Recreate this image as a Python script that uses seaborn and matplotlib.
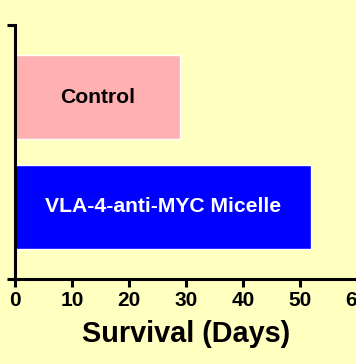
import pandas as pd
import seaborn as sns
import matplotlib.pyplot as plt

groups = ['Control', 'VLA-4-anti-MYC Micelle']
survival_days = [29, 52]
bar_colors = ['#FFB0B0', '#0000FF']
label_colors = ['black', 'white']
x_ticks = [0, 10, 20, 30, 40, 50, 60]

bg = '#FFFFBF'

sns.set_style('ticks')
plt.rcParams['font.family'] = ['Liberation Sans', 'DejaVu Sans']
plt.rcParams['font.weight'] = 'bold'

df = pd.DataFrame({'group': groups, 'days': survival_days})

fig = plt.figure(figsize=(3.56, 3.64), dpi=100)
fig.patch.set_facecolor(bg)
ax = fig.add_axes([15 / 356, 1 - 279 / 364, 342 / 356, 254 / 364])
ax.set_facecolor(bg)

sns.barplot(data=df, x='days', y='group', hue='group', palette=bar_colors,
            orient='h', width=0.764, legend=False, saturation=1, ax=ax)

# group names written in the middle of each bar
for i, name in enumerate(groups):
    ax.text(survival_days[i] / 2, i, name, color=label_colors[i], fontsize=15.2,
            fontweight='bold', ha='center', va='center')

ax.set_xlim(0, 60)
ax.set_ylim(1.655, -0.655)
ax.set_xticks(x_ticks)
ax.set_xticklabels([str(t) for t in x_ticks], fontsize=15, fontweight='bold')
ax.set_yticks([-0.655, 1.655])
ax.set_yticklabels(['', ''])
ax.set_ylabel('')
ax.set_xlabel('Survival (Days)', fontsize=20.8, fontweight='bold',
              color='black', labelpad=7)

for side in ['top', 'right']:
    ax.spines[side].set_visible(False)
for side in ['left', 'bottom']:
    ax.spines[side].set_linewidth(2.2)
    ax.spines[side].set_color('black')
ax.tick_params(width=2.2, length=5.5, color='black', labelcolor='black', pad=3)

fig.savefig('out.png', dpi=100, facecolor=bg)
